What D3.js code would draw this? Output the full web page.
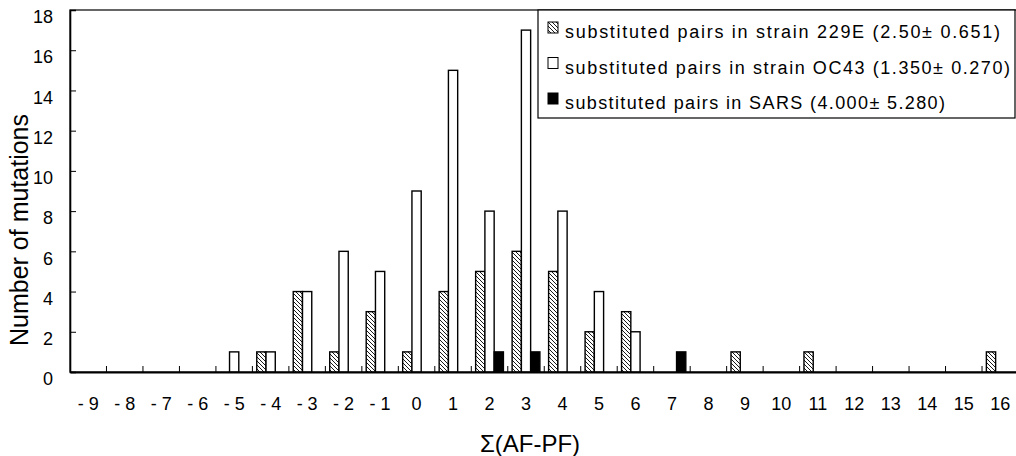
<!DOCTYPE html>
<html>
<head>
<meta charset="utf-8">
<script src="https://cdn.jsdelivr.net/npm/d3@7"></script>
<style>
  body { margin: 0; background: #fff; }
  svg { display: block; font-family: "Liberation Sans", Arial, sans-serif; }
</style>
</head>
<body>
<svg width="1016" height="456"></svg>
<script>
// x categories: sum(AF-PF)
var categories = [-9,-8,-7,-6,-5,-4,-3,-2,-1,0,1,2,3,4,5,6,7,8,9,10,11,12,13,14,15,16];

// number of mutations per category
var values229E = [0,0,0,0,0,1,4,1,3,1,4,5,6,5,2,3,0,0,1,0,1,0,0,0,0,1];
var valuesOC43 = [0,0,0,0,1,1,4,6,5,9,15,8,17,8,4,2,0,0,0,0,0,0,0,0,0,0];
var valuesSARS = [0,0,0,0,0,0,0,0,0,0,0,1,1,0,0,0,1,0,0,0,0,0,0,0,0,0];

var seriesKeys = ['229E', 'OC43', 'SARS'];
var seriesLabels = [
  'substituted pairs in strain 229E (2.50\u00b1 0.651)',
  'substituted pairs in strain OC43 (1.350\u00b1 0.270)',
  'substituted pairs in SARS (4.000\u00b1 5.280)'
];
var yTicks = [0,2,4,6,8,10,12,14,16,18];

var series = [values229E, valuesOC43, valuesSARS];
var fills = {'229E': 'url(#hatch)', 'OC43': '#fff', 'SARS': '#000'};

var svg = d3.select("svg");
var plotLeft = 70, plotRight = 1018.5, plotTop = 10, plotBottom = 372;

var defs = svg.append("defs");
var pat = defs.append("pattern")
    .attr("id", "hatch")
    .attr("patternUnits", "userSpaceOnUse")
    .attr("width", 4)
    .attr("height", 4);
pat.append("rect").attr("width", 4).attr("height", 4).attr("fill", "#fff");
pat.append("path")
    .attr("d", "M0,0 L4,4 M-1,3 L1,5 M3,-1 L5,1")
    .attr("stroke", "#000")
    .attr("stroke-width", 0.9);

var x0 = d3.scaleBand().domain(categories).range([plotLeft, plotRight]).padding(0);
var x1 = d3.scaleBand().domain(seriesKeys).range([0, x0.bandwidth()])
    .paddingInner(0).paddingOuter(0.47);
var y = d3.scaleLinear().domain([0, 18]).range([plotBottom, plotTop]);

// plot area border
svg.append("rect")
    .attr("x", plotLeft).attr("y", plotTop)
    .attr("width", plotRight - plotLeft).attr("height", plotBottom - plotTop)
    .attr("fill", "none").attr("stroke", "#000").attr("stroke-width", 1.2);

// bars
var rows = [];
for (var s = 0; s < series.length; s++)
{
  for (var i = 0; i < categories.length; i++)
  {
    if (series[s][i] > 0)
      rows.push({cat: categories[i], key: seriesKeys[s], value: series[s][i]});
  }
}

svg.append("g").selectAll("rect")
  .data(rows)
  .enter()
  .append("rect")
  .attr("x", function(d) { return x0(d.cat) + x1(d.key); })
  .attr("y", function(d) { return y(d.value); })
  .attr("width", x1.bandwidth())
  .attr("height", function(d) { return y(0) - y(d.value); })
  .attr("fill", function(d) { return fills[d.key]; })
  .attr("stroke", "#000")
  .attr("stroke-width", 1.4);

// y axis, ticks inward
var yAxis = svg.append("g")
  .attr("transform", "translate(" + plotLeft + ",0)")
  .call(d3.axisLeft(y).tickValues(yTicks).tickSize(-6).tickPadding(17));
yAxis.select(".domain").attr("stroke-width", 1.6);
yAxis.selectAll("text")
  .attr("y", 7)
  .style("font-size", "18px")
  .style("font-family", "Liberation Sans, Arial, sans-serif")
  .attr("fill", "#000");

// x axis: labels centred, ticks on category boundaries
var xAxis = svg.append("g")
  .attr("transform", "translate(0," + plotBottom + ")")
  .call(d3.axisBottom(x0).tickSize(0).tickPadding(25)
        .tickFormat(function(d) { return d < 0 ? "- " + Math.abs(d) : d; }));
xAxis.select(".domain").attr("stroke-width", 2);
xAxis.selectAll("text")
  .style("font-size", "18px")
  .style("font-family", "Liberation Sans, Arial, sans-serif")
  .attr("fill", "#000");

xAxis.selectAll(".bound")
  .data(categories.slice(1))
  .enter()
  .append("line")
  .attr("class", "bound")
  .attr("x1", function(d) { return x0(d); })
  .attr("x2", function(d) { return x0(d); })
  .attr("y1", 0)
  .attr("y2", -6)
  .attr("stroke", "#000")
  .attr("stroke-width", 1);

// axis titles
svg.append("text")
  .attr("transform", "translate(28,230) rotate(-90)")
  .attr("text-anchor", "middle")
  .style("font-size", "25px")
  .text("Number of mutations");

svg.append("text")
  .attr("x", 530)
  .attr("y", 452)
  .attr("text-anchor", "middle")
  .style("font-size", "24px")
  .text("\u03a3(AF-PF)");

// legend
var legend = svg.append("g");
legend.append("rect")
  .attr("x", 538).attr("y", plotTop)
  .attr("width", 477).attr("height", 108)
  .attr("fill", "#fff").attr("stroke", "#000").attr("stroke-width", 1.2);

var textWidths = [435, 445, 380];
var item = legend.selectAll(".item")
  .data(seriesKeys)
  .enter()
  .append("g")
  .attr("class", "item")
  .attr("transform", function(d, i) { return "translate(0," + (38 + i * 35.5) + ")"; });

item.append("rect")
  .attr("x", 548).attr("y", -16)
  .attr("width", 10).attr("height", 11)
  .attr("fill", function(d) { return fills[d]; })
  .attr("stroke", "#000")
  .attr("stroke-width", 1);

item.append("text")
  .attr("x", 565)
  .attr("y", 0)
  .attr("textLength", function(d, i) { return textWidths[i]; })
  .attr("lengthAdjust", "spacing")
  .style("font-size", "18px")
  .text(function(d, i) { return seriesLabels[i]; });
</script>
</body>
</html>
